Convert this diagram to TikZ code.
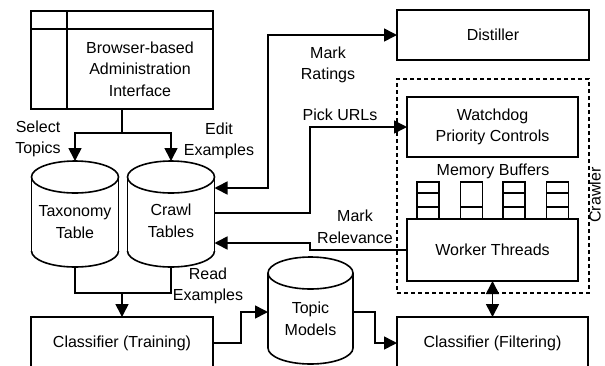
\documentclass[tikz,border=0pt]{standalone}
\usepackage{fontspec}
\setmainfont{Liberation Sans}
\usetikzlibrary{arrows.meta}
\newcommand\mycyl[6]{% name, cx, top, bottom, rx, ry
  \draw (#2-#5,#3+#6) -- (#2-#5,#4-#6);
  \draw (#2+#5,#3+#6) -- (#2+#5,#4-#6);
  \draw (#2,#3+#6) ellipse[x radius=#5, y radius=#6];
  \begin{scope}
    \clip (#2-#5-3,#4-#6) rectangle (#2+#5+3,#4+3);
    \draw (#2,#4-#6) ellipse[x radius=#5, y radius=#6];
  \end{scope}
  \node[minimum width=2*#5 pt, minimum height=#4-#3 pt, inner sep=0pt, outer sep=0pt] (#1) at (#2,{(#3+#4)/2}) {};
}
\begin{document}
\begin{tikzpicture}[x=1pt,y=-1pt,
  line width=1.6pt,
  font=\fontsize{16}{21.5}\selectfont,
  box/.style={draw, rectangle, inner sep=0pt, outer sep=0pt},
  dbox/.style={draw, rectangle, dash pattern=on 4pt off 3pt, inner sep=0pt, outer sep=0pt},
  lbl/.style={align=center, inner sep=0pt},
  arr/.style={-{Triangle[length=13pt,width=13pt]}},
  darr/.style={{Triangle[length=13pt,width=13pt]}-{Triangle[length=13pt,width=13pt]}},
  buf/.style={draw, rectangle, minimum width=22pt, minimum height=37pt, inner sep=0pt, outer sep=0pt},
]
\clip (0,0) rectangle (605,365);

% Admin interface
\node[box, minimum width=182pt, minimum height=98pt] (admin) at (122,60) {};
\draw (admin.north west |- 0,29) -- (admin.north east |- 0,29);
\draw (67,0 |- admin.north) -- (67,0 |- admin.south);
\node[lbl] (admintext) at (140,69) {Browser-based\\Administration\\Interface};

% cylinders
\mycyl{tax}{75}{161}{267}{43.5}{16}
\mycyl{crawl}{171}{161}{267}{43.5}{16}
\mycyl{topic}{310.5}{257}{364}{42.5}{16}
\node[lbl] (taxtext) at (75,222) {Taxonomy\\Table};
\node[lbl] (crawltext) at (171,221) {Crawl\\Tables};
\node[lbl] (topictext) at (310.5,319) {Topic\\Models};

% right side boxes
\node[box, minimum width=192pt, minimum height=50pt] (dist) at (493,35) {Distiller};
\node[dbox, minimum width=192pt, minimum height=214pt] (crawlerbox) at (493,186) {};
\node[box, minimum width=171pt, minimum height=60pt, align=center] (watch) at (492.5,127) {Watchdog\\Priority Controls};
\node[box, minimum width=171pt, minimum height=62pt] (worker) at (492.5,250) {Worker Threads};
\node[lbl] (membuf) at (493,171) {Memory Buffers};
\node[lbl, rotate=90] (crawlerlbl) at (595,195) {Crawler};

% memory buffers
\node[buf] (b1) at (428,200.5) {};
\node[buf] (b2) at (471.5,200.5) {};
\node[buf] (b3) at (514,200.5) {};
\node[buf] (b4) at (557.5,200.5) {};
\draw (b1.west |- 0,193) -- (b1.east |- 0,193);
\draw (b1.west |- 0,207) -- (b1.east |- 0,207);
\draw (b2.west |- 0,207) -- (b2.east |- 0,207);
\draw (b3.west |- 0,193) -- (b3.east |- 0,193);
\draw (b3.west |- 0,207) -- (b3.east |- 0,207);
\draw (b4.west |- 0,193) -- (b4.east |- 0,193);
\draw (b4.west |- 0,207) -- (b4.east |- 0,207);

% bottom boxes
\node[box, minimum width=182pt, minimum height=52pt] (train) at (122,343) {Classifier (Training)};
\node[box, minimum width=191pt, minimum height=52pt] (filt) at (492.5,343) {Classifier (Filtering)};

% connectors
\coordinate (br) at (122,133);
\draw (admin.south) -- (br);
\draw[arr] (br) -| (tax.north);
\draw[arr] (br) -| (crawl.north);

\coordinate (rj) at (122,293);
\draw (tax.south) |- (rj) -| (crawl.south);
\draw[arr] (rj) -- (train.north);

\draw[arr] (train.east) -- (241,343) |- (topic.west |- 0,312);
\draw[arr] (topic.east |- 0,312) -- (375,312) |- (filt.west);
\draw[darr] (worker.south) -- (filt.north);

\draw[darr] (crawl.east |- 0,188) -- (268,188) |- (dist.west);
\draw[arr] (crawl.east |- 0,213) -- (310,213) |- (watch.west);
\draw[arr] (worker.west) -- (310,250) -- (310,243) -- (crawl.east |- 0,243);

% labels
\node[lbl] (lsel) at (38,139) {Select\\Topics};
\node[lbl] (ledit) at (219,141) {Edit\\Examples};
\node[lbl] (lmark) at (328,65) {Mark\\Ratings};
\node[lbl] (lpick) at (340,115) {Pick URLs};
\node[lbl] (lrel) at (355,227) {Mark\\Relevance};
\node[lbl] (lread) at (208,286) {Read\\Examples};
\end{tikzpicture}
\end{document}
